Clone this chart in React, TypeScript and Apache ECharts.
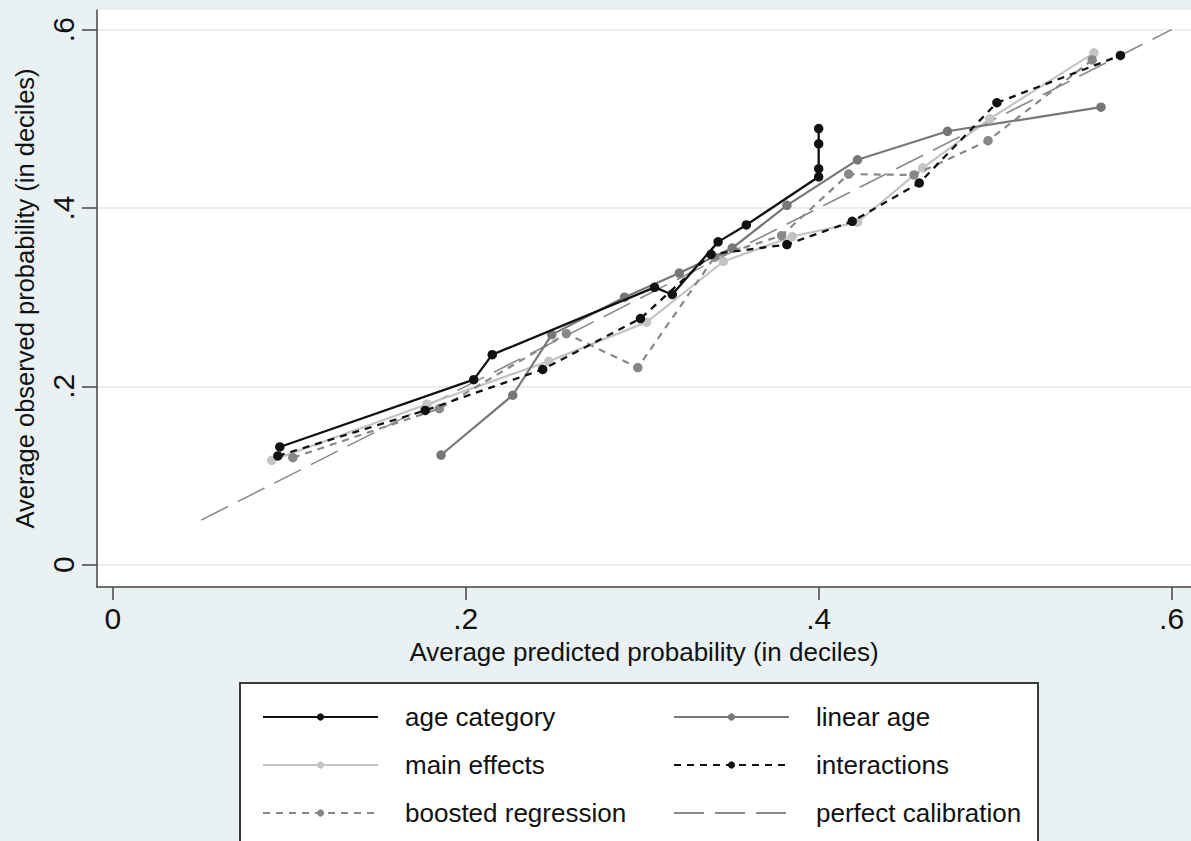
import React, { useEffect, useRef } from 'react';
import * as echarts from 'echarts';

// ---- data ----
const ageCatX = [0.0946, 0.2045, 0.215, 0.307, 0.317, 0.343, 0.359, 0.4, 0.4, 0.4, 0.4];
const ageCatY = [0.132, 0.2075, 0.2355, 0.311, 0.303, 0.362, 0.381, 0.435, 0.444, 0.472, 0.489];

const linAgeX = [0.186, 0.2266, 0.2487, 0.29, 0.321, 0.351, 0.382, 0.422, 0.473, 0.56];
const linAgeY = [0.123, 0.19, 0.258, 0.3, 0.327, 0.355, 0.403, 0.454, 0.486, 0.513];

const mainEffX = [0.09, 0.178, 0.247, 0.3025, 0.346, 0.385, 0.422, 0.459, 0.497, 0.556];
const mainEffY = [0.117, 0.18, 0.228, 0.272, 0.34, 0.368, 0.384, 0.445, 0.5, 0.574];

const interX = [0.0935, 0.177, 0.2436, 0.299, 0.339, 0.382, 0.419, 0.457, 0.501, 0.571];
const interY = [0.122, 0.173, 0.219, 0.276, 0.348, 0.359, 0.385, 0.428, 0.518, 0.571];

const boostX = [0.102, 0.185, 0.257, 0.2975, 0.341, 0.379, 0.417, 0.454, 0.496, 0.555];
const boostY = [0.12, 0.175, 0.259, 0.221, 0.345, 0.369, 0.438, 0.437, 0.4755, 0.566];

const perfectX = [0.05, 0.6];
const perfectY = [0.05, 0.6];

const tickValues = [0, 0.2, 0.4, 0.6];

const seriesNames = {
  age: 'age category',
  lin: 'linear age',
  main: 'main effects',
  inter: 'interactions',
  boost: 'boosted regression',
  perfect: 'perfect calibration',
};

const zip = (xs: number[], ys: number[]) => xs.map((x, i) => [x, ys[i]]);

const FONT = '"Liberation Sans", Arial, Helvetica, sans-serif';
const fmt = (v: number) => (v === 0 ? '0' : '.' + Math.round(v * 10));

export default function App() {
  const ref = useRef<HTMLDivElement>(null);

  useEffect(() => {
    const chart = echarts.init(ref.current!, null, { renderer: 'svg' });
    const axisColor = '#444';
    const lineSeries = (
      name: string,
      xs: number[],
      ys: number[],
      color: string,
      dash: any,
      width: number,
      withSymbol: boolean,
      z: number
    ) => ({
      name,
      type: 'line',
      data: zip(xs, ys),
      showSymbol: withSymbol,
      symbol: withSymbol ? 'circle' : 'none',
      symbolSize: 9.5,
      itemStyle: { color },
      lineStyle: { color, width, type: dash },
      z,
      silent: true,
    });

    const legendCommon = {
      orient: 'vertical',
      padding: 0,
      itemWidth: 115,
      itemHeight: 9,
      itemGap: 22,
      selectedMode: false,
      textStyle: {
        fontSize: 26,
        lineHeight: 26,
        color: '#111',
        fontFamily: FONT,
        padding: [0, 0, 0, 22],
      },
    };

    chart.setOption({
      animation: false,
      textStyle: { fontFamily: FONT },
      grid: {
        left: 97,
        right: 0,
        top: 10,
        bottom: 254,
        show: true,
        backgroundColor: '#ffffff',
        borderWidth: 0,
      },
      xAxis: {
        type: 'value',
        min: -0.009,
        max: 0.611,
        name: 'Average predicted probability (in deciles)',
        nameLocation: 'middle',
        nameGap: 52,
        nameTextStyle: { fontSize: 26, color: '#111', fontFamily: FONT },
        axisLine: { show: true, onZero: false, lineStyle: { color: axisColor, width: 1.5 } },
        axisTick: { show: true, length: 13, customValues: tickValues, lineStyle: { color: axisColor, width: 1.5 } },
        axisLabel: { customValues: tickValues, formatter: fmt, fontSize: 30, margin: 16, color: '#111', fontFamily: FONT },
        splitLine: { show: false },
      },
      yAxis: {
        type: 'value',
        min: -0.025,
        max: 0.622,
        name: 'Average observed probability (in deciles)',
        nameLocation: 'middle',
        nameGap: 59,
        nameTextStyle: { fontSize: 25.5, color: '#111', fontFamily: FONT },
        axisLine: { show: true, onZero: false, lineStyle: { color: axisColor, width: 1.5 } },
        axisTick: { show: true, length: 15, customValues: tickValues, lineStyle: { color: axisColor, width: 1.5 } },
        axisLabel: { customValues: tickValues, formatter: fmt, rotate: 90, fontSize: 30, margin: 19, color: '#111', fontFamily: FONT },
        splitLine: { show: true, customValues: tickValues, lineStyle: { color: '#e8e8e8', width: 1.5 } },
      },
      legend: [
        {
          ...legendCommon,
          left: 262,
          top: 704,
          data: [seriesNames.age, seriesNames.main, seriesNames.boost],
        },
        {
          ...legendCommon,
          left: 673,
          top: 704,
          data: [
            seriesNames.lin,
            seriesNames.inter,
            { name: seriesNames.perfect, itemStyle: { color: 'rgba(0,0,0,0)', borderWidth: 0, opacity: 0 } },
          ],
        },
      ],
      graphic: [
        {
          type: 'rect',
          z: 1,
          shape: { x: 240, y: 683, width: 798, height: 200 },
          style: { fill: '#ffffff', stroke: '#3a3a3a', lineWidth: 2 },
        },
      ],
      series: [
        lineSeries(seriesNames.perfect, perfectX, perfectY, '#8a8a8a', [30, 11], 1.6, false, 2),
        lineSeries(seriesNames.main, mainEffX, mainEffY, '#c4c4c4', 'solid', 2.2, true, 3),
        lineSeries(seriesNames.boost, boostX, boostY, '#888888', [7, 6], 2.2, true, 4),
        lineSeries(seriesNames.lin, linAgeX, linAgeY, '#777777', 'solid', 2.2, true, 5),
        lineSeries(seriesNames.inter, interX, interY, '#111111', [7, 6], 2.3, true, 6),
        lineSeries(seriesNames.age, ageCatX, ageCatY, '#111111', 'solid', 2.3, true, 7),
      ],
    });
    return () => chart.dispose();
  }, []);

  return (
    <div
      style={{
        position: 'fixed',
        left: 0,
        top: 0,
        width: 1191,
        height: 841,
        background: '#eaf1f2',
        overflow: 'hidden',
      }}
    >
      <div ref={ref} style={{ width: 1191, height: 841 }} />
    </div>
  );
}
